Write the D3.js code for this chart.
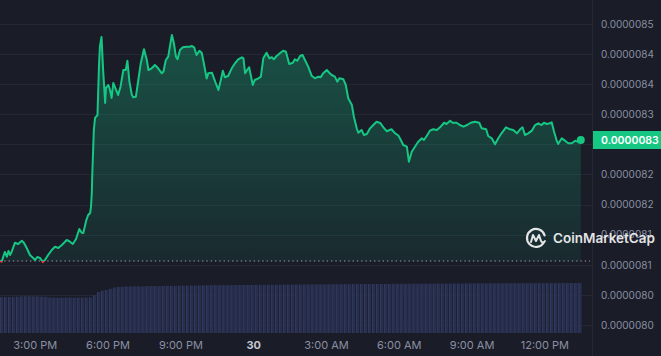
<!DOCTYPE html>
<html><head><meta charset="utf-8">
<script src="https://cdn.jsdelivr.net/npm/d3@7"></script>
<style>
html,body{margin:0;padding:0;background:#1a1c28;overflow:hidden}
svg{display:block}
text{font-family:Inter,"Noto Sans",sans-serif}
</style></head><body>
<svg id="chart" width="661" height="356"></svg>
<script>
// ---- DATA ----
const windowStart = new Date(2024, 3, 29, 13, 34);
const windowHours = 24;
// minutes since window start
const minutes = [0,4,12,17,21,25,29,37,45,54,59,66,74,82,87,92,99,106,111,119,128,136,144,153,165,173,180,188,196,202,206,213,218,223,225,227,228,232,235,241,245,247,251,255,260,262,268,272,276,280,287,292,298,305,311,315,320,326,330,336,342,348,356,363,367,375,383,391,400,404,410,416,420,425,430,435,439,445,452,462,470,474,480,486,493,499,504,511,515,524,532,540,546,551,556,564,573,581,589,598,602,606,611,616,620,625,630,639,645,651,659,666,672,677,684,692,700,707,715,724,729,735,742,748,754,762,771,779,787,793,799,808,814,820,828,834,839,849,855,861,870,875,882,886,894,900,907,915,923,931,940,948,956,968,977,985,991,997,1006,1011,1018,1026,1034,1043,1048,1055,1063,1071,1080,1088,1098,1104,1113,1119,1129,1137,1146,1155,1164,1174,1185,1191,1202,1207,1216,1224,1232,1240,1251,1261,1269,1278,1286,1292,1298,1306,1315,1323,1331,1339,1345,1352,1360,1364,1370,1376,1380,1389,1397,1405,1414,1422,1428,1436];
const prices = [8.1063e-6,8.1050e-6,8.1213e-6,8.1135e-6,8.1229e-6,8.1163e-6,8.1218e-6,8.1367e-6,8.1346e-6,8.1400e-6,8.1367e-6,8.1279e-6,8.1163e-6,8.1113e-6,8.1080e-6,8.1130e-6,8.1113e-6,8.1045e-6,8.1080e-6,8.1163e-6,8.1246e-6,8.1301e-6,8.1279e-6,8.1329e-6,8.1412e-6,8.1384e-6,8.1346e-6,8.1429e-6,8.1595e-6,8.1533e-6,8.1528e-6,8.1733e-6,8.1827e-6,8.1861e-6,8.1965e-6,8.2193e-6,8.2463e-6,8.3239e-6,8.3439e-6,8.3488e-6,8.4352e-6,8.4623e-6,8.4784e-6,8.4236e-6,8.3688e-6,8.3937e-6,8.3987e-6,8.3904e-6,8.3771e-6,8.4020e-6,8.3904e-6,8.3821e-6,8.3958e-6,8.4236e-6,8.4236e-6,8.4390e-6,8.4042e-6,8.3821e-6,8.3782e-6,8.3792e-6,8.4070e-6,8.4347e-6,8.4580e-6,8.4402e-6,8.4236e-6,8.4264e-6,8.4319e-6,8.4264e-6,8.4181e-6,8.4208e-6,8.4402e-6,8.4457e-6,8.4623e-6,8.4817e-6,8.4679e-6,8.4457e-6,8.4414e-6,8.4568e-6,8.4613e-6,8.4623e-6,8.4623e-6,8.4635e-6,8.4613e-6,8.4485e-6,8.4556e-6,8.4518e-6,8.4347e-6,8.4095e-6,8.4181e-6,8.4191e-6,8.4042e-6,8.3904e-6,8.4070e-6,8.4224e-6,8.4115e-6,8.4136e-6,8.4264e-6,8.4347e-6,8.4414e-6,8.4447e-6,8.4430e-6,8.4181e-6,8.4236e-6,8.4281e-6,8.4153e-6,8.3987e-6,8.4070e-6,8.4098e-6,8.4125e-6,8.4430e-6,8.4523e-6,8.4430e-6,8.4447e-6,8.4414e-6,8.4468e-6,8.4513e-6,8.4556e-6,8.4540e-6,8.4336e-6,8.4357e-6,8.4414e-6,8.4390e-6,8.4468e-6,8.4485e-6,8.4402e-6,8.4291e-6,8.4136e-6,8.4098e-6,8.4125e-6,8.4115e-6,8.4181e-6,8.4236e-6,8.4191e-6,8.4153e-6,8.4125e-6,8.4042e-6,8.4098e-6,8.4081e-6,8.3987e-6,8.3766e-6,8.3655e-6,8.3460e-6,8.3267e-6,8.3194e-6,8.3239e-6,8.3156e-6,8.3173e-6,8.3267e-6,8.3322e-6,8.3377e-6,8.3356e-6,8.3284e-6,8.3219e-6,8.3251e-6,8.3184e-6,8.3148e-6,8.3073e-6,8.2990e-6,8.2962e-6,8.2713e-6,8.2879e-6,8.2962e-6,8.3045e-6,8.3101e-6,8.3073e-6,8.3140e-6,8.3228e-6,8.3251e-6,8.3239e-6,8.3284e-6,8.3360e-6,8.3339e-6,8.3394e-6,8.3360e-6,8.3360e-6,8.3322e-6,8.3294e-6,8.3322e-6,8.3360e-6,8.3377e-6,8.3360e-6,8.3267e-6,8.3251e-6,8.3140e-6,8.3101e-6,8.3002e-6,8.3101e-6,8.3184e-6,8.3284e-6,8.3251e-6,8.3239e-6,8.3184e-6,8.3251e-6,8.3284e-6,8.3156e-6,8.3184e-6,8.3228e-6,8.3322e-6,8.3351e-6,8.3322e-6,8.3360e-6,8.3339e-6,8.3351e-6,8.3367e-6,8.3211e-6,8.3073e-6,8.3007e-6,8.3101e-6,8.3062e-6,8.3018e-6,8.3018e-6,8.3062e-6,8.3045e-6,8.3073e-6];
// volume per 10-minute interval (arbitrary units, millions)
const volumeIntervalMin = 10;
const volumes = [7.18,7.22,7.20,7.24,7.26,
7.32,7.34,7.36,7.33,7.30,7.28,7.22,
7.10,7.08,7.06,7.05,7.06,7.07,7.05,7.06,7.08,7.10,7.12,
7.60,
8.20,8.45,8.60,8.85,9.10,9.20,9.25,9.30,
9.32,9.34,9.35,9.34,9.36,9.38,9.37,9.38,
9.40,9.42,9.44,9.43,9.45,9.46,9.48,9.47,9.50,9.52,
9.54,9.55,9.56,9.55,9.57,9.58,9.58,9.60,9.59,9.60,9.61,9.62,9.62,9.63,9.62,9.64,9.65,9.64,9.66,9.66,9.67,9.68,9.68,9.69,9.70,
9.70,9.71,9.72,9.72,9.73,9.74,9.74,9.75,9.76,9.76,9.77,9.77,9.78,9.78,9.79,9.80,9.80,9.80,9.81,9.81,9.82,9.82,9.83,9.83,9.84,9.84,9.85,9.85,9.85,9.86,9.86,9.87,9.87,9.88,9.88,9.88,
9.89,9.89,9.90,9.90,9.90,9.91,9.91,9.92,9.92,9.92,9.93,9.93,9.94,9.94,9.94,9.95,9.95,9.95,9.96,9.96,9.96,9.97,9.97,9.97,9.98,9.98,9.98,9.99,9.99,9.99,10.0,10.0,10.0];
const volumeMax = 10;
const yTickValues = [8.50e-6,8.45e-6,8.40e-6,8.35e-6,8.30e-6,8.25e-6,8.20e-6,8.15e-6,8.10e-6,8.05e-6,8.00e-6];
// the 8.30e-6 label sits under the last-price badge and is not visible
const yTickLabels = ["0.0000085","0.0000084","0.0000084","0.0000083","","0.0000082","0.0000082","0.0000081","0.0000081","0.0000080","0.0000080"];
const xTickHours = [15,18,21,24,27,30,33,36]; // hours after 29 Apr 00:00
const xTickLabels = ["3:00 PM","6:00 PM","9:00 PM","30","3:00 AM","6:00 AM","9:00 AM","12:00 PM"];
const lastPriceLabel = "0.0000083";
const brandName = "CoinMarketCap";

// ---- COLORS / LAYOUT ----
const W = 661, H = 356;
const C = {bg:"#1a1c28", grid:"#242734", up:"#16c784", down:"#ea3943", axis:"#8a90a2", vol:"#282f4e", volLine:"#353d64"};
const plotRight = 582.4, sepX = 592.5;

const svg = d3.select("#chart");
const defs = svg.append("defs");

const toDate = m => new Date(windowStart.getTime() + m * 60000);
const x = d3.scaleTime().domain([windowStart, new Date(windowStart.getTime() + windowHours*3600000)]).range([0, plotRight]);
const y = d3.scaleLinear().domain([8.00e-6, 8.50e-6]).range([325, 24]);
const yv = d3.scaleLinear().domain([0, volumeMax]).range([333, 283]);

const data = minutes.map((m,i) => ({t: toDate(m), p: prices[i]}));
const base = prices[0];
const yBase = y(base);

svg.append("rect").attr("width", W).attr("height", H).attr("fill", C.bg);

// grid
svg.append("g").selectAll("line").data(yTickValues).join("line")
  .attr("x1", 0).attr("x2", sepX).attr("y1", d => Math.round(y(d)) + 0.5).attr("y2", d => Math.round(y(d)) + 0.5)
  .attr("stroke", C.grid).attr("stroke-width", 1);
svg.append("line").attr("x1", sepX).attr("x2", sepX).attr("y1", 0).attr("y2", H).attr("stroke", C.grid);

// volume bars
const vStep = x(toDate(volumeIntervalMin)) - x(toDate(0));
svg.append("g").selectAll("rect").data(volumes).join("rect")
  .attr("x", (d,i) => x(toDate(i*volumeIntervalMin)))
  .attr("width", vStep - 0.8)
  .attr("y", d => yv(d))
  .attr("height", d => yv(0) - yv(d))
  .attr("fill", C.vol);
svg.append("g").selectAll("line").data(volumes).join("line")
  .attr("x1", (d,i) => x(toDate(i*volumeIntervalMin)) + 0.4)
  .attr("x2", (d,i) => x(toDate(i*volumeIntervalMin)) + 0.4)
  .attr("y1", d => yv(d)).attr("y2", yv(0))
  .attr("stroke", C.volLine).attr("stroke-width", 0.8);

// clips
defs.append("clipPath").attr("id","above").append("rect").attr("x",0).attr("y",0).attr("width",W).attr("height",yBase);
defs.append("clipPath").attr("id","below").append("rect").attr("x",0).attr("y",yBase).attr("width",W).attr("height",H-yBase);

const grad = defs.append("linearGradient").attr("id","gUp").attr("gradientUnits","userSpaceOnUse")
  .attr("x1",0).attr("x2",0).attr("y1",30).attr("y2",yBase);
grad.append("stop").attr("offset",0).attr("stop-color",C.up).attr("stop-opacity",0.32);
grad.append("stop").attr("offset",1).attr("stop-color",C.up).attr("stop-opacity",0.08);

const area = d3.area().x(d => x(d.t)).y0(yBase).y1(d => y(d.p));
svg.append("path").datum(data).attr("d", area).attr("fill","url(#gUp)").attr("clip-path","url(#above)");
svg.append("path").datum(data).attr("d", area).attr("fill",C.down).attr("fill-opacity",0.12).attr("clip-path","url(#below)");

// baseline (opening price)
svg.append("line").attr("x1",0).attr("x2",590).attr("y1",yBase).attr("y2",yBase)
  .attr("stroke","#9aa0ad").attr("stroke-width",1).attr("stroke-dasharray","1.3,3");

const line = d3.line().x(d => x(d.t)).y(d => y(d.p));
svg.append("path").datum(data).attr("d", line).attr("fill","none").attr("stroke",C.up).attr("stroke-width",2)
  .attr("stroke-linejoin","round").attr("clip-path","url(#above)");
svg.append("path").datum(data).attr("d", line).attr("fill","none").attr("stroke",C.down).attr("stroke-width",2)
  .attr("stroke-linejoin","round").attr("clip-path","url(#below)");

const last = data[data.length-1];
svg.append("circle").attr("cx", x(last.t)).attr("cy", y(last.p)).attr("r", 4).attr("fill", C.up);

// y axis
const yAxis = d3.axisRight(y).tickValues(yTickValues).tickFormat((d,i) => yTickLabels[i]).tickSize(0).tickPadding(0);
const gy = svg.append("g").attr("transform","translate(601,0)").call(yAxis);
gy.select(".domain").remove();
gy.selectAll(".tick").filter((d,i) => yTickLabels[i] === "").remove();
gy.selectAll("text").attr("fill", C.axis).style("font-size","10px").style("font-family","Inter,'Noto Sans',sans-serif");

// last price badge
const badgeY = y(last.p);
svg.append("rect").attr("x", 593).attr("y", badgeY - 9).attr("width", 68).attr("height", 18).attr("fill", C.up);
svg.append("text").attr("x", 601).attr("y", badgeY).attr("dy","0.35em").attr("fill","#ffffff")
  .style("font-size","10.5px").style("font-weight","600").text(lastPriceLabel);

// x axis
const xTicks = xTickHours.map(h => new Date(2024, 3, 29, h));
const xAxis = d3.axisBottom(x).tickValues(xTicks).tickFormat((d,i) => xTickLabels[i]).tickSize(0).tickPadding(0);
const gx = svg.append("g").attr("transform","translate(0,341)").call(xAxis);
gx.select(".domain").remove();
gx.selectAll("text").style("font-size","11px").style("font-family","Inter,'Noto Sans',sans-serif")
  .style("font-weight",(d,i) => xTickLabels[i] === "30" ? "700" : "400")
  .attr("fill",(d,i) => xTickLabels[i] === "30" ? "#c3c7d2" : C.axis);

// watermark
const wm = svg.append("g").attr("opacity",0.88);
const lc = {x:536, y:238}, r = 9;
const p = d3.path();
p.arc(lc.x, lc.y, r, 0.55, 0.55 + 2*Math.PI - 0.85, false);
wm.append("path").attr("d", p.toString()).attr("fill","none").attr("stroke","#ffffff").attr("stroke-width",2.2).attr("stroke-linecap","round");
wm.append("path").attr("d", `M${lc.x-5},${lc.y+4} L${lc.x-3},${lc.y-3} L${lc.x},${lc.y+3} L${lc.x+3},${lc.y-3} L${lc.x+5},${lc.y+3} Q${lc.x+7},${lc.y+6} ${lc.x+9},${lc.y+3}`)
  .attr("fill","none").attr("stroke","#ffffff").attr("stroke-width",2).attr("stroke-linejoin","round").attr("stroke-linecap","round");
wm.append("text").attr("x",553).attr("y",243).attr("fill","#ffffff").style("font-size","13.5px").style("font-weight","600").text(brandName);
</script>
</body></html>
